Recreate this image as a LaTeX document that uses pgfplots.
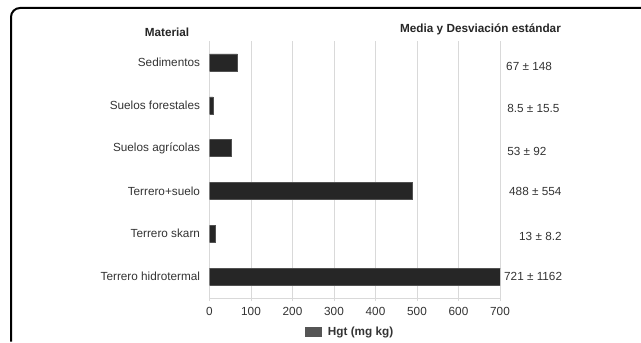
\documentclass[border=0pt]{standalone}
\usepackage{fontspec}
\setmainfont{Liberation Sans}
\usepackage{pgfplots}
\pgfplotsset{compat=1.18}
\definecolor{barc}{HTML}{262626}
\definecolor{txt}{HTML}{333333}
\definecolor{grd}{HTML}{D9D9D9}
\definecolor{leg}{HTML}{555555}
\begin{document}
\begin{tikzpicture}
\begin{axis}[
  at={(209.5bp,45bp)}, anchor=south west,
  scale only axis, width=290.5bp, height=257bp,
  xbar, bar width=17bp,
  xmin=0, xmax=700, ymin=-0.5, ymax=5.5, y dir=reverse,
  xtick={0,100,...,700},
  ytick={0,...,5},
  yticklabels={Sedimentos, Suelos forestales, Suelos agrícolas, Terrero+suelo, Terrero skarn, Terrero hidrotermal},
  ytick style={draw=none},
  extra y ticks={-0.5,0.5,...,5.5},
  extra y tick labels={},
  extra y tick style={tick style={draw=grd}, major tick length=4bp, grid=none},
  tick align=outside,
  xtick style={draw=grd},
  major tick length=3bp,
  axis x line*=bottom, axis y line*=left,
  axis line style={draw=grd,-},
  xmajorgrids, major grid style={grd},
  clip mode=individual,
  /pgf/number format/assume math mode=true,
  ticklabel style={font=\fontsize{11.8}{14}\selectfont, text=txt},
  yticklabel style={xshift=-3bp},
  xticklabel style={yshift=-3bp},
  legend style={at={(rel axis cs:0.484,-0.132)}, anchor=center, draw=none, fill=none,
    font=\bfseries\fontsize{11.8}{14}\selectfont, text=txt},
]
\addplot[fill=barc, draw=barc!80!white,
  legend image code/.code={\fill[leg, draw=none] (0bp,-5bp) rectangle (17bp,5bp); \path[draw=none, fill=none] (0bp,-5bp) rectangle (21bp,5bp);}]
  coordinates {(67,0) (8.5,1) (53,2) (488,3) (13,4) (721,5)};
\addlegendentry{Hgt (mg kg)}
\begin{scope}[every node/.style={anchor=west, text=txt, font=\fontsize{11.8}{14}\selectfont, inner sep=0pt}]
\node at (axis cs:714.5,0.09) {67 ± 148};
\node at (axis cs:717,1.07) {8.5 ± 15.5};
\node at (axis cs:717,2.07) {53 ± 92};
\node at (axis cs:721.7,3.02) {488 ± 554};
\node at (axis cs:745.8,4.07) {13 ± 8.2};
\node at (axis cs:709.6,5.0) {721 ± 1162};
\end{scope}
\end{axis}
\node[font=\bfseries\fontsize{11.8}{14}\selectfont, text=black!85] at (167bp,311bp) {Material};
\node[font=\bfseries\fontsize{11.8}{14}\selectfont, text=black!85] at (480.5bp,314bp) {Media y Desviación estándar};
\draw[line width=2bp, rounded corners=9bp] (11bp,1.5bp) -- (11bp,335bp) -- (641bp,335bp);
\pgfresetboundingbox
\useasboundingbox (0bp,0bp) rectangle (641bp,343bp);
\end{tikzpicture}
\end{document}
